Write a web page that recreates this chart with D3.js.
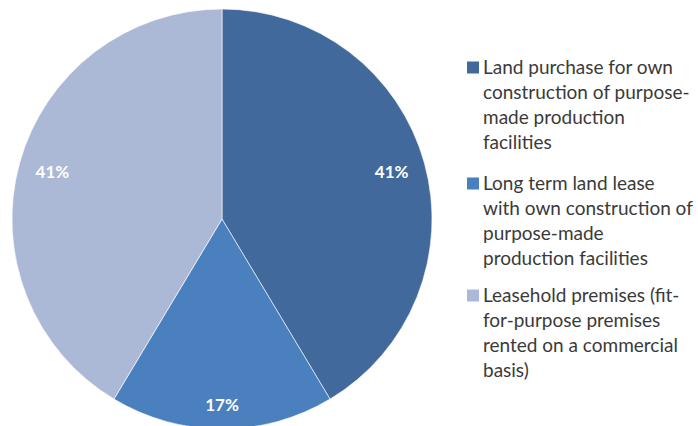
<!DOCTYPE html>
<html><head><meta charset="utf-8">
<script src="https://cdn.jsdelivr.net/npm/d3@7"></script>
<style>body{margin:0;background:#fff}svg{display:block}</style>
</head><body>
<svg id="c" width="698" height="426"></svg>
<script>
const categories = [
  ["Land purchase for own", "construction of purpose-", "made production", "facilities"],
  ["Long term land lease", "with own construction of", "purpose-made", "production facilities"],
  ["Leasehold premises (fit-", "for-purpose premises", "rented on a commercial", "basis)"]
];
const values = [41.4, 17.2, 41.4];
const colors = ["#41699c", "#4a80bd", "#abb9d6"];

const svg = d3.select("#c");
const cx = 222, cy = 219, r = 210;
const total = d3.sum(values);
const pie = d3.pie().sort(null).value(d => d)(values);
const arc = d3.arc().innerRadius(0).outerRadius(r);
const g = svg.append("g").attr("transform", `translate(${cx},${cy})`);
g.selectAll("path").data(pie).join("path")
  .attr("d", arc).attr("fill", (d,i) => colors[i])
  .attr("stroke", "#ffffff").attr("stroke-opacity", 0.6).attr("stroke-width", 1);
g.selectAll("text").data(pie).join("text")
  .attr("transform", d => {
    const a = (d.startAngle + d.endAngle) / 2;
    const rr = (d.endAngle - d.startAngle) < 1.5 ? r * 0.885 : r * 0.838;
    return `translate(${rr*Math.sin(a)},${-rr*Math.cos(a)})`;
  })
  .attr("text-anchor", "middle").attr("dy", "0.35em")
  .attr("fill", "#fff").attr("font-family", "Lato, sans-serif")
  .attr("font-size", 17).attr("font-weight", "bold")
  .text(d => Math.round(d.data / total * 100) + "%");

const leg = svg.append("g").attr("font-family", "Lato, sans-serif").attr("font-size", 19).attr("fill", "#3a3a3a");
const itemTops = [67, 183, 295];
categories.forEach((lines, i) => {
  const it = leg.append("g").attr("transform", `translate(0,${itemTops[i]})`);
  it.append("rect").attr("x", 467).attr("y", -5.5).attr("width", 12).attr("height", 12).attr("fill", colors[i]);
  lines.forEach((t, j) => {
    it.append("text").attr("x", 483).attr("y", j * 25).attr("dy", "0.35em").text(t);
  });
});
</script>
</body></html>
